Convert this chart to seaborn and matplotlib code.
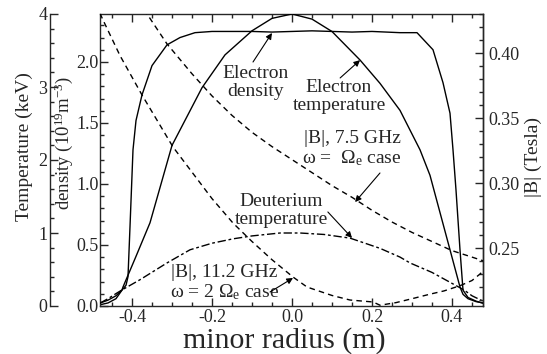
import matplotlib
matplotlib.use("Agg")
import matplotlib.pyplot as plt
import seaborn as sns
from matplotlib.ticker import MultipleLocator, FuncFormatter

# ---------------- data ----------------
ne_x = [-0.48, -0.46, -0.44, -0.425, -0.415, -0.41, -0.405, -0.3975, -0.39, -0.375,
        -0.35, -0.3125, -0.28, -0.2425, -0.2, -0.1675, -0.1, -0.05, 0.0, 0.05, 0.1,
        0.15, 0.2, 0.27, 0.3125, 0.3525, 0.3775, 0.395, 0.4025, 0.41, 0.42, 0.4275,
        0.44, 0.46, 0.48]
ne_y = [0.01, 0.025, 0.06, 0.13, 0.17, 0.24, 0.65, 1.28, 1.52, 1.73,
        1.97, 2.14, 2.20, 2.24, 2.25, 2.25, 2.25, 2.245, 2.25, 2.255, 2.25,
        2.245, 2.25, 2.24, 2.24, 2.10, 1.83, 1.58, 1.28, 0.95, 0.46, 0.13,
        0.07, 0.04, 0.02]

te_x = [-0.48, -0.46, -0.44, -0.425, -0.4225, -0.39, -0.355, -0.3, -0.225, -0.1675,
        -0.1, -0.05, 0.0, 0.05, 0.1, 0.17, 0.22, 0.27, 0.32, 0.345, 0.395, 0.42,
        0.4275, 0.44, 0.46, 0.48]
te_y = [0.04, 0.08, 0.14, 0.22, 0.26, 0.68, 1.14, 2.20, 2.99, 3.44,
        3.77, 3.94, 4.0, 3.93, 3.76, 3.37, 3.05, 2.68, 2.14, 1.79, 0.77, 0.26,
        0.16, 0.10, 0.06, 0.04]

td_x = [-0.48, -0.46, -0.44, -0.425, -0.38, -0.3125, -0.255, -0.2, -0.1475, -0.1,
        -0.03, 0.02, 0.08, 0.145, 0.22, 0.27, 0.295, 0.35, 0.4, 0.43, 0.45, 0.48]
td_y = [0.04, 0.10, 0.17, 0.22, 0.36, 0.59, 0.77, 0.86, 0.92, 0.96,
        1.0, 1.0, 0.98, 0.93, 0.79, 0.67, 0.59, 0.46, 0.31, 0.22, 0.14, 0.06]

b75_x = [-0.37, -0.3125, -0.25, -0.2, -0.15, -0.1, -0.05, 0.0, 0.05, 0.1, 0.15,
         0.2, 0.25, 0.3, 0.35, 0.4, 0.45, 0.48]
b75_y = [0.4335, 0.407, 0.384, 0.367, 0.352, 0.339, 0.328, 0.318, 0.308, 0.298, 0.289,
         0.279, 0.270, 0.262, 0.255, 0.248, 0.243, 0.240]

b112_x = [-0.48, -0.4725, -0.43, -0.375, -0.2975, -0.2, -0.1475, -0.1, -0.05, 0.0025,
          0.0375, 0.1, 0.145, 0.2025, 0.22, 0.26, 0.3, 0.345, 0.38, 0.42, 0.45, 0.47, 0.48]
b112_y = [0.4305, 0.4254, 0.398, 0.3677, 0.3277, 0.288, 0.2692, 0.255, 0.241, 0.2277,
          0.220, 0.2135, 0.210, 0.2085, 0.206, 0.208, 0.211, 0.2145, 0.217, 0.221, 0.225, 0.230, 0.233]

# ---------------- style ----------------
sns.set_style("ticks")
plt.rcParams["font.family"] = ["Liberation Serif", "DejaVu Serif"]
plt.rcParams["mathtext.fontset"] = "custom"
plt.rcParams["mathtext.rm"] = "Liberation Serif"
plt.rcParams["mathtext.it"] = "Liberation Serif:italic"
plt.rcParams["axes.unicode_minus"] = False
plt.rcParams["axes.linewidth"] = 1.0

fig = plt.figure(figsize=(5.47, 3.54), dpi=100)
ax = fig.add_axes([100/547, 48/354, 383/547, 292/354])
ax_T = ax.twinx()
ax_B = ax.twinx()

lw = 1.0
sns.lineplot(x=ne_x, y=ne_y, ax=ax, color="black", linewidth=lw)
sns.lineplot(x=te_x, y=te_y, ax=ax_T, color="black", linewidth=lw)
sns.lineplot(x=td_x, y=td_y, ax=ax_T, color="black", linewidth=lw, linestyle=(0, (6, 2, 2, 2)))
sns.lineplot(x=b75_x, y=b75_y, ax=ax_B, color="black", linewidth=lw, linestyle=(0, (4, 3)))
sns.lineplot(x=b112_x, y=b112_y, ax=ax_B, color="black", linewidth=lw, linestyle=(0, (4, 3)))

xlim = (-0.48, 0.4775)
for a in (ax, ax_T, ax_B):
    a.set_xlim(*xlim)
ax.set_ylim(0, 2.393)
ax_T.set_ylim(0, 4.0)
ax_B.set_ylim(0.2054, 0.430)

def fmt(d):
    def f(v, pos):
        s = f"{v:.{d}f}"
        if s.startswith("-") and float(s) == 0:
            s = s[1:]
        return s
    return FuncFormatter(f)

tick_fs = 13
# x axis
ax.xaxis.set_major_locator(MultipleLocator(0.2))
ax.xaxis.set_minor_locator(MultipleLocator(0.05))
ax.xaxis.set_major_formatter(fmt(1))
ax.tick_params(axis="x", which="both", direction="in", top=True, bottom=True, labelsize=tick_fs, pad=2)
ax.tick_params(axis="x", which="major", length=6, width=1)
ax.tick_params(axis="x", which="minor", length=3, width=1)
# density axis
ax.yaxis.set_major_locator(MultipleLocator(0.5))
ax.yaxis.set_minor_locator(MultipleLocator(0.1))
ax.yaxis.set_major_formatter(fmt(1))
ax.tick_params(axis="y", which="both", direction="in", left=True, right=False, labelsize=tick_fs, pad=1)
ax.tick_params(axis="y", which="major", length=6, width=1)
ax.tick_params(axis="y", which="minor", length=3, width=1)
ax.set_xlabel("minor radius (m)", fontsize=21.5, labelpad=0)
ax.xaxis.set_label_coords(0.48, -0.071)
ax.set_ylabel("density (10$^{19}$m$^{-3}$)", fontsize=13.5)
ax.yaxis.set_label_coords(-0.066, 0.56)

# temperature axis (offset left)
ax_T.spines["left"].set_position(("axes", -50/383))
ax_T.spines["left"].set_visible(True)
for s in ("right", "top", "bottom"):
    ax_T.spines[s].set_visible(False)
ax_T.yaxis.set_ticks_position("left")
ax_T.yaxis.set_label_position("left")
ax_T.yaxis.set_major_locator(MultipleLocator(1))
ax_T.yaxis.set_minor_locator(MultipleLocator(0.2))
ax_T.yaxis.set_major_formatter(fmt(0))
ax_T.tick_params(axis="y", which="both", direction="in", labelsize=tick_fs, pad=2)
ax_T.tick_params(axis="y", which="major", length=6, width=1)
ax_T.tick_params(axis="y", which="minor", length=3, width=1)
ax_T.set_ylabel("Temperature (keV)", fontsize=14)
ax_T.yaxis.set_label_coords(-0.176, 0.546)

# B axis (right)
for s in ("left", "top", "bottom"):
    ax_B.spines[s].set_visible(False)
ax_B.yaxis.set_major_locator(MultipleLocator(0.05))
ax_B.yaxis.set_minor_locator(MultipleLocator(0.01))
ax_B.yaxis.set_major_formatter(fmt(2))
ax_B.tick_params(axis="y", which="both", direction="in", labelsize=tick_fs, pad=4)
ax_B.tick_params(axis="y", which="major", length=6, width=1)
ax_B.tick_params(axis="y", which="minor", length=3, width=1)
ax_B.set_ylabel("|B| (Tesla)", fontsize=14)
ax_B.yaxis.set_label_coords(1.11, 0.509)

# ---------------- annotations ----------------
afs = 14
tr = ax_B.transAxes
def label(txt, fx, fy):
    ax_B.text(fx, fy, txt, transform=tr, ha="center", va="center", fontsize=afs, linespacing=1.1)

def arrow(start, tip):
    ax_B.annotate("", xy=tip, xytext=start, xycoords="axes fraction", textcoords="axes fraction",
                  arrowprops=dict(arrowstyle="-|>", color="black", lw=0.8, mutation_scale=9,
                                  shrinkA=0, shrinkB=0))

label("Electron\ndensity", 0.407, 0.766)
arrow((0.3995, 0.8356), (0.449, 0.935))
label("Electron\ntemperature", 0.624, 0.7175)
arrow((0.627, 0.781), (0.679, 0.842))
label("|B|, 7.5 GHz\nω =  Ω$_\\mathrm{e}$ case", 0.658, 0.5377)
arrow((0.731, 0.4555), (0.666, 0.356))
label("Deuterium\ntemperature", 0.4726, 0.327)
arrow((0.595, 0.322), (0.658, 0.233))
label("|B|, 11.2 GHz\nω = 2 Ω$_\\mathrm{e}$ case", 0.324, 0.0788)
arrow((0.444, 0.048), (0.504, 0.096))

fig.savefig("out.png", dpi=100)
